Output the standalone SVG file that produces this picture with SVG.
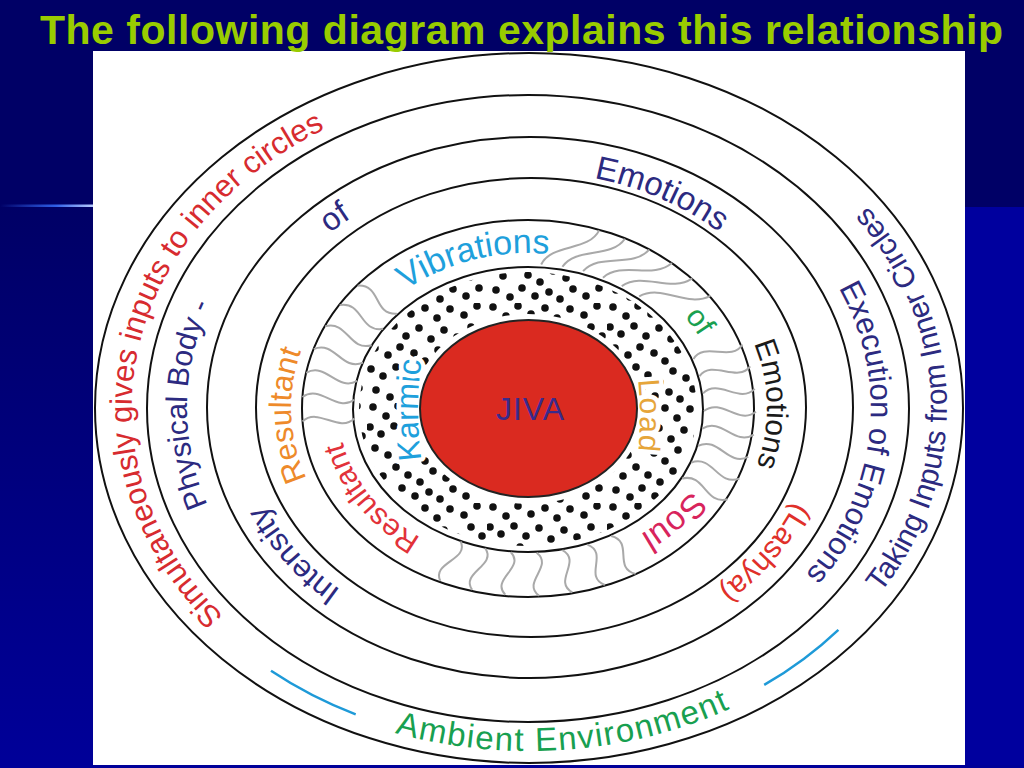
<svg xmlns="http://www.w3.org/2000/svg" width="1024" height="768" viewBox="0 0 1024 768">
<style>
.ring{fill:none;stroke:#111;stroke-width:2}
.lbl{font-family:"Liberation Sans",Arial,sans-serif}
.navy{fill:#2c2a80}
.dash{fill:none;stroke:#1e9ad8;stroke-width:2.5}
.halo{stroke:#ffffff;stroke-width:9;stroke-linejoin:round;paint-order:stroke}
</style>
<defs>
<linearGradient id="bgL" x1="0" y1="0" x2="0" y2="1"><stop offset="0" stop-color="#000066"/><stop offset="1" stop-color="#000099"/></linearGradient>
<linearGradient id="rule" x1="0" y1="0" x2="1" y2="0"><stop offset="0" stop-color="#000066"/><stop offset="0.6" stop-color="#2f5fe8"/><stop offset="1" stop-color="#b8ccff"/></linearGradient>
<pattern id="dotPat" patternUnits="userSpaceOnUse" width="120" height="100" x="7" y="3">
<g fill="#111">
<circle cx="6" cy="4" r="3.8"/><circle cx="19" cy="13" r="3.8"/><circle cx="31" cy="3" r="3.8"/><circle cx="44" cy="11" r="3.8"/><circle cx="58" cy="5" r="3.8"/><circle cx="70" cy="15" r="3.8"/><circle cx="83" cy="6" r="3.8"/><circle cx="97" cy="12" r="3.8"/><circle cx="110" cy="3" r="3.8"/>
<circle cx="3" cy="24" r="3.8"/><circle cx="14" cy="31" r="3.8"/><circle cx="27" cy="23" r="3.8"/><circle cx="39" cy="33" r="3.8"/><circle cx="52" cy="25" r="3.8"/><circle cx="64" cy="36" r="3.8"/><circle cx="77" cy="27" r="3.8"/><circle cx="90" cy="34" r="3.8"/><circle cx="104" cy="24" r="3.8"/><circle cx="115" cy="33" r="3.8"/>
<circle cx="8" cy="45" r="3.8"/><circle cx="21" cy="52" r="3.8"/><circle cx="33" cy="44" r="3.8"/><circle cx="47" cy="50" r="3.8"/><circle cx="58" cy="58" r="3.8"/><circle cx="71" cy="47" r="3.8"/><circle cx="84" cy="55" r="3.8"/><circle cx="96" cy="45" r="3.8"/><circle cx="110" cy="52" r="3.8"/>
<circle cx="4" cy="66" r="3.8"/><circle cx="16" cy="73" r="3.8"/><circle cx="29" cy="64" r="3.8"/><circle cx="41" cy="72" r="3.8"/><circle cx="53" cy="79" r="3.8"/><circle cx="66" cy="68" r="3.8"/><circle cx="79" cy="75" r="3.8"/><circle cx="92" cy="65" r="3.8"/><circle cx="103" cy="74" r="3.8"/><circle cx="114" cy="64" r="3.8"/>
<circle cx="9" cy="87" r="3.8"/><circle cx="23" cy="94" r="3.8"/><circle cx="35" cy="85" r="3.8"/><circle cx="48" cy="93" r="3.8"/><circle cx="62" cy="89" r="3.8"/><circle cx="73" cy="96" r="3.8"/><circle cx="86" cy="86" r="3.8"/><circle cx="99" cy="93" r="3.8"/><circle cx="112" cy="85" r="3.8"/>
</g>
</pattern>
<path id="w" d="M175,0 C192,-17 210,17 227,0" vector-effect="non-scaling-stroke"/>
<path id="w2" d="M175,0 C201.7,8.8 193.6,46.1 220.3,54.9" vector-effect="non-scaling-stroke"/>
<path id="pA1" d="M399.7,715.3 A397,325 0 0 1 522.1,83.0"/>
<path id="pA2" d="M612.3,744.1 A418,343 0 0 0 590.8,68.8"/>
<path id="pA3" d="M127.2,502.5 A418,343 0 0 0 946.0,431.9"/>
<path id="pB1" d="M466.1,686.2 A342,283 0 0 1 473.1,128.8"/>
<path id="pB2" d="M616.3,134.4 A342,283 0 0 1 560.0,689.8"/>
<path id="pC1" d="M254.1,333.5 A289,241 0 0 1 468.9,172.3"/>
<path id="pC2" d="M474.6,176.3 A285,236 0 0 1 795.1,323.4"/>
<path id="pC3" d="M409.2,626.4 A289,240 0 0 1 241.3,431.0"/>
<path id="pC4" d="M816.9,428.9 A289,240 0 0 1 651.1,625.5"/>
<path id="pD1" d="M352.1,539.8 A238,197 0 0 1 341.5,286.7"/>
<path id="pD2" d="M708.6,278.8 A238,197 0 0 1 713.9,532.0"/>
<path id="pE1" d="M367.9,325.9 A190,155 0 0 1 600.2,264.3"/>
<path id="pE2" d="M624.5,272 A191,157 0 0 1 720,408"/>
<path id="pE3" d="M716.9,439.8 A190,155 0 0 1 587.7,555.4"/>
<path id="pE4" d="M457.5,553.6 A191,157 0 0 1 338.1,402.5"/>
<path id="pF1" d="M432.9,510 A111,200 0 0 1 432.9,310"/>
<path id="pF2" d="M625.1,316 A111,200 0 0 1 625.1,516"/>
</defs>

<g id="background">
<rect width="1024" height="768" fill="#000066"/>
<rect x="0" y="207" width="93" height="561" fill="url(#bgL)"/>
<rect x="965" y="207" width="59" height="561" fill="#00009e"/>
<rect x="0" y="765" width="1024" height="3" fill="#000099"/>
<rect x="0" y="204.5" width="93" height="2.5" fill="url(#rule)"/>
<rect x="93" y="51" width="872" height="714" fill="#ffffff"/>
</g>

<g id="karmic-dots">
<path fill="url(#dotPat)" fill-rule="evenodd" d="M359,409 a169,137 0 1 0 338,0 a169,137 0 1 0 -338,0 Z M413,409 a115,95 0 1 0 230,0 a115,95 0 1 0 -230,0 Z"/>
</g>

<g id="rings">
<ellipse class="ring" cx="529" cy="408" rx="434" ry="355"/>
<ellipse class="ring" cx="528" cy="408.5" rx="381" ry="313.5"/>
<ellipse class="ring" cx="530" cy="407.5" rx="323" ry="270.5"/>
<ellipse class="ring" cx="531" cy="407.5" rx="275" ry="229.5"/>
<ellipse class="ring" cx="528" cy="408.5" rx="226" ry="188.5"/>
<ellipse class="ring" cx="528" cy="409.5" rx="175" ry="142.5"/>
</g>

<g id="vibration-waves" transform="translate(529,408.5) scale(1,0.825)" fill="none" stroke="#a9a9a9" stroke-width="2">
<use href="#w" transform="rotate(176)"/>
<use href="#w" transform="rotate(183.5)"/>
<use href="#w" transform="rotate(191)"/>
<use href="#w" transform="rotate(198.5)"/>
<use href="#w" transform="rotate(206)"/>
<use href="#w" transform="rotate(213.5)"/>
<use href="#w" transform="rotate(221)"/>
<use href="#w2" transform="rotate(274)"/>
<use href="#w2" transform="rotate(281)"/>
<use href="#w2" transform="rotate(288)"/>
<use href="#w2" transform="rotate(295)"/>
<use href="#w2" transform="rotate(302)"/>
<use href="#w2" transform="rotate(309)"/>
<use href="#w" transform="rotate(340)"/>
<use href="#w" transform="rotate(347)"/>
<use href="#w" transform="rotate(354)"/>
<use href="#w" transform="rotate(1)"/>
<use href="#w" transform="rotate(8)"/>
<use href="#w" transform="rotate(15)"/>
<use href="#w" transform="rotate(22)"/>
<use href="#w" transform="rotate(29)"/>
<use href="#w" transform="rotate(62)"/>
<use href="#w" transform="rotate(70.5)"/>
<use href="#w" transform="rotate(79)"/>
<use href="#w" transform="rotate(87.5)"/>
<use href="#w" transform="rotate(96)"/>
<use href="#w" transform="rotate(104.5)"/>
<use href="#w" transform="rotate(113)"/>
</g>

<g id="ambient-dashes">
<path class="dash" d="M271,670.7 A410,338 0 0 0 355.7,714.3"/>
<path class="dash" d="M764.2,684.9 A410,338 0 0 0 838.4,629.8"/>
</g>

<g id="ring-ambient">
<text class="lbl" font-size="31" fill="#d72b2f" text-anchor="middle"><textPath href="#pA1" startOffset="50%">Simultaneously gives inputs to inner circles</textPath></text>
<text class="lbl navy" font-size="30" text-anchor="middle"><textPath href="#pA2" startOffset="50%">Taking Inputs from Inner Circles</textPath></text>
<text class="lbl" font-size="33" fill="#18a050" letter-spacing="1.5" text-anchor="middle"><textPath href="#pA3" startOffset="50%">Ambient Environment</textPath></text>
</g>

<g id="ring-body">
<text class="lbl navy" font-size="30" text-anchor="middle"><textPath href="#pB1" startOffset="50%">Physical Body -</textPath></text>
<text class="lbl navy" font-size="31" text-anchor="middle"><textPath href="#pB2" startOffset="50%">Execution of Emotions</textPath></text>
</g>

<g id="ring-intensity">
<text class="lbl navy" font-size="32" text-anchor="middle"><textPath href="#pC1" startOffset="50%">of</textPath></text>
<text class="lbl navy" font-size="33" text-anchor="middle"><textPath href="#pC2" startOffset="50%">Emotions</textPath></text>
<text class="lbl navy" font-size="31" text-anchor="middle"><textPath href="#pC3" startOffset="50%">Intensity</textPath></text>
<text class="lbl" font-size="30" fill="#e0302a" text-anchor="middle"><textPath href="#pC4" startOffset="50%">(Lashya)</textPath></text>
</g>

<g id="ring-resultant-emotions">
<text class="lbl" font-size="31" fill="#ee8a2a" text-anchor="middle"><textPath href="#pD1" startOffset="50%">Resultant</textPath></text>
<text class="lbl" font-size="30" fill="#1a1a1a" text-anchor="middle"><textPath href="#pD2" startOffset="50%">Emotions</textPath></text>
</g>

<g id="ring-vibrations">
<text class="lbl" font-size="34" fill="#1ea0dc" text-anchor="middle"><textPath href="#pE1" startOffset="50%">Vibrations</textPath></text>
<text class="lbl" font-size="30" fill="#1aa050" text-anchor="middle"><textPath href="#pE2" startOffset="50%">of</textPath></text>
<text class="lbl" font-size="34" fill="#d8245c" text-anchor="middle"><textPath href="#pE3" startOffset="50%">Soul</textPath></text>
<text class="lbl" font-size="30" fill="#e2323a" text-anchor="middle"><textPath href="#pE4" startOffset="50%">Resultant</textPath></text>
</g>

<g id="ring-karmic-load">
<text class="lbl halo" font-size="32" fill="#1ea0dc" text-anchor="middle"><textPath href="#pF1" startOffset="50%">Karmic</textPath></text>
<text class="lbl halo" font-size="30" fill="#e6a53a" letter-spacing="1.5" text-anchor="middle"><textPath href="#pF2" startOffset="50%">Load</textPath></text>
</g>

<g id="jiva">
<ellipse cx="528.5" cy="408.5" rx="108.5" ry="88.5" fill="#da2a20" stroke="#222" stroke-width="2"/>
<text class="lbl" x="530.5" y="420" font-size="32" letter-spacing="1" fill="#3a2a8c" text-anchor="middle">JIVA</text>
</g>

<g id="title">
<text class="lbl" x="40" y="44" font-size="41" font-weight="bold" fill="#99cc00" textLength="963">The following diagram explains this relationship</text>
</g>
</svg>
